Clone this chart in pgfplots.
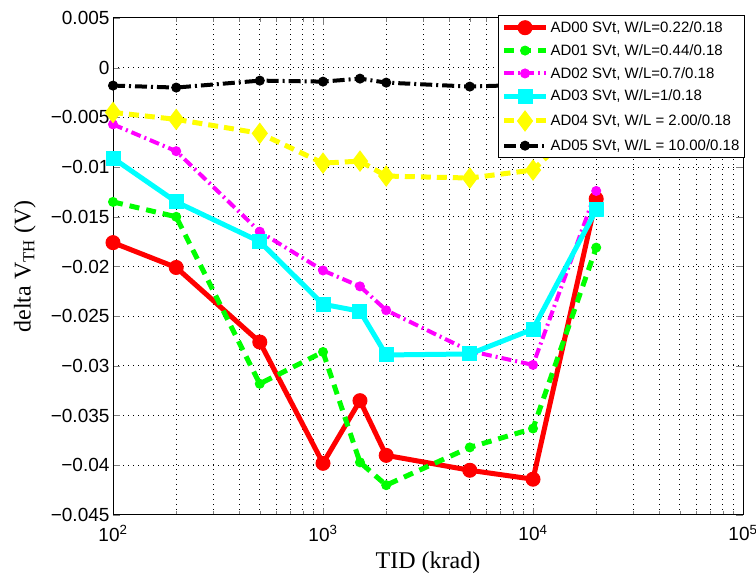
\documentclass[border=0pt]{standalone}
\usepackage{fontspec}
\setmainfont{Liberation Sans}
\newfontfamily\labelfont{Liberation Serif}
\usepackage{pgfplots}
\pgfplotsset{compat=1.18}
\definecolor{mred}{rgb}{1,0,0}
\definecolor{mgreen}{rgb}{0,1,0}
\definecolor{mmag}{rgb}{1,0,1}
\definecolor{mcyan}{rgb}{0,1,1}
\definecolor{myellow}{rgb}{1,1,0}
\begin{document}
\begin{tikzpicture}
\begin{axis}[
  scale only axis, width=630pt, height=497pt,
  xmode=log, xmin=100, xmax=100000, ymin=-0.045, ymax=0.005,
  xtick={100,1000,10000,100000},
  xticklabels={10\textsuperscript{2},10\textsuperscript{3},10\textsuperscript{4},10\textsuperscript{5}},
  ytick={-0.045,-0.04,-0.035,-0.03,-0.025,-0.02,-0.015,-0.01,-0.005,0,0.005},
  yticklabels={−0.045,−0.04,−0.035,−0.03,−0.025,−0.02,−0.015,−0.01,−0.005,0,0.005},
  scaled y ticks=false,
  tick label style={font=\fontsize{19}{22}\selectfont},
  xticklabel style={yshift=-7pt},
  xmajorgrids=true, xminorgrids=true, ymajorgrids=true,
  major grid style={draw=black, line width=1pt, loosely dotted},
  minor grid style={draw=black, line width=1pt, loosely dotted},
  tick align=inside,
  major tick length=7pt, minor tick length=4pt,
  axis line style={line width=1pt},
  xlabel={\labelfont TID (krad)},
  ylabel={\labelfont delta V\textsubscript{TH} (V)},
  label style={font=\fontsize{24}{28}\selectfont},
  xlabel style={at={(axis description cs:0.5,0)}, anchor=center, yshift=-48pt},
  ylabel style={at={(axis description cs:-0.140,0.5)}, anchor=center},
  legend style={at={(1.003,1.006)}, anchor=north east, draw=black, line width=1pt, fill=white,
    font=\fontsize{15}{18}\selectfont, row sep=6.5pt, inner xsep=3pt, inner ysep=4pt},
  legend cell align=left,
  legend image code/.code={\draw[mark repeat=2,mark phase=2] plot coordinates {(0pt,0pt) (21pt,0pt) (42pt,0pt)};},
]
\addplot[mred, line width=5pt, mark=*, mark size=7pt, mark options={solid, fill=mred, line width=1pt}]
 coordinates {(100,-0.0176)(200,-0.0201)(500,-0.0276)(1000,-0.0398)(1500,-0.0335)(2000,-0.0390)(5000,-0.0405)(10000,-0.0414)(20000,-0.0132)};
\addlegendentry{AD00 SVt, W/L=0.22/0.18}
\addplot[mgreen, line width=5pt, dash pattern=on 10pt off 7pt, mark=*, mark size=4.5pt, mark options={solid, fill=mgreen, line width=1pt}]
 coordinates {(100,-0.0135)(200,-0.0150)(500,-0.0318)(1000,-0.0286)(1500,-0.0397)(2000,-0.0420)(5000,-0.0382)(10000,-0.0363)(20000,-0.0181)};
\addlegendentry{AD01 SVt, W/L=0.44/0.18}
\addplot[mmag, line width=4pt, dash pattern=on 10pt off 4pt on 2pt off 4pt, mark=*, mark size=4.5pt, mark options={solid, fill=mmag, line width=1pt}]
 coordinates {(100,-0.0057)(200,-0.0084)(500,-0.0165)(1000,-0.0204)(1500,-0.0220)(2000,-0.0244)(5000,-0.0285)(10000,-0.0299)(20000,-0.0124)};
\addlegendentry{AD02 SVt, W/L=0.7/0.18}
\addplot[mcyan, line width=5pt, mark=square*, mark size=7pt, mark options={solid, fill=mcyan, line width=1pt}]
 coordinates {(100,-0.0091)(200,-0.0135)(500,-0.0175)(1000,-0.0238)(1500,-0.0245)(2000,-0.0289)(5000,-0.0288)(10000,-0.0263)(20000,-0.0143)};
\addlegendentry{AD03 SVt, W/L=1/0.18}
\addplot[myellow, line width=5pt, dash pattern=on 10pt off 6pt, mark=diamond*, mark size=10pt, mark options={solid, fill=myellow, line width=1pt}]
 coordinates {(100,-0.0045)(200,-0.0052)(500,-0.0066)(1000,-0.0096)(1500,-0.0094)(2000,-0.0109)(5000,-0.0111)(10000,-0.0103)(20000,-0.0042)};
\addlegendentry{AD04 SVt, W/L = 2.00/0.18}
\addplot[black, line width=4pt, dash pattern=on 12pt off 4pt on 2pt off 4pt, mark=*, mark size=4.5pt, mark options={solid, fill=black, line width=1pt}]
 coordinates {(100,-0.0018)(200,-0.0020)(500,-0.0013)(1000,-0.0014)(1500,-0.0011)(2000,-0.0015)(5000,-0.0019)(10000,-0.0017)(20000,-0.0016)};
\addlegendentry{AD05 SVt, W/L = 10.00/0.18}
\coordinate (bl) at (rel axis cs:0,0);
\coordinate (tr) at (rel axis cs:1,1);
\end{axis}
\pgfresetboundingbox
\path ([shift={(-113pt,-60pt)}]bl) rectangle ([shift={(13pt,18pt)}]tr);
\end{tikzpicture}
\end{document}
